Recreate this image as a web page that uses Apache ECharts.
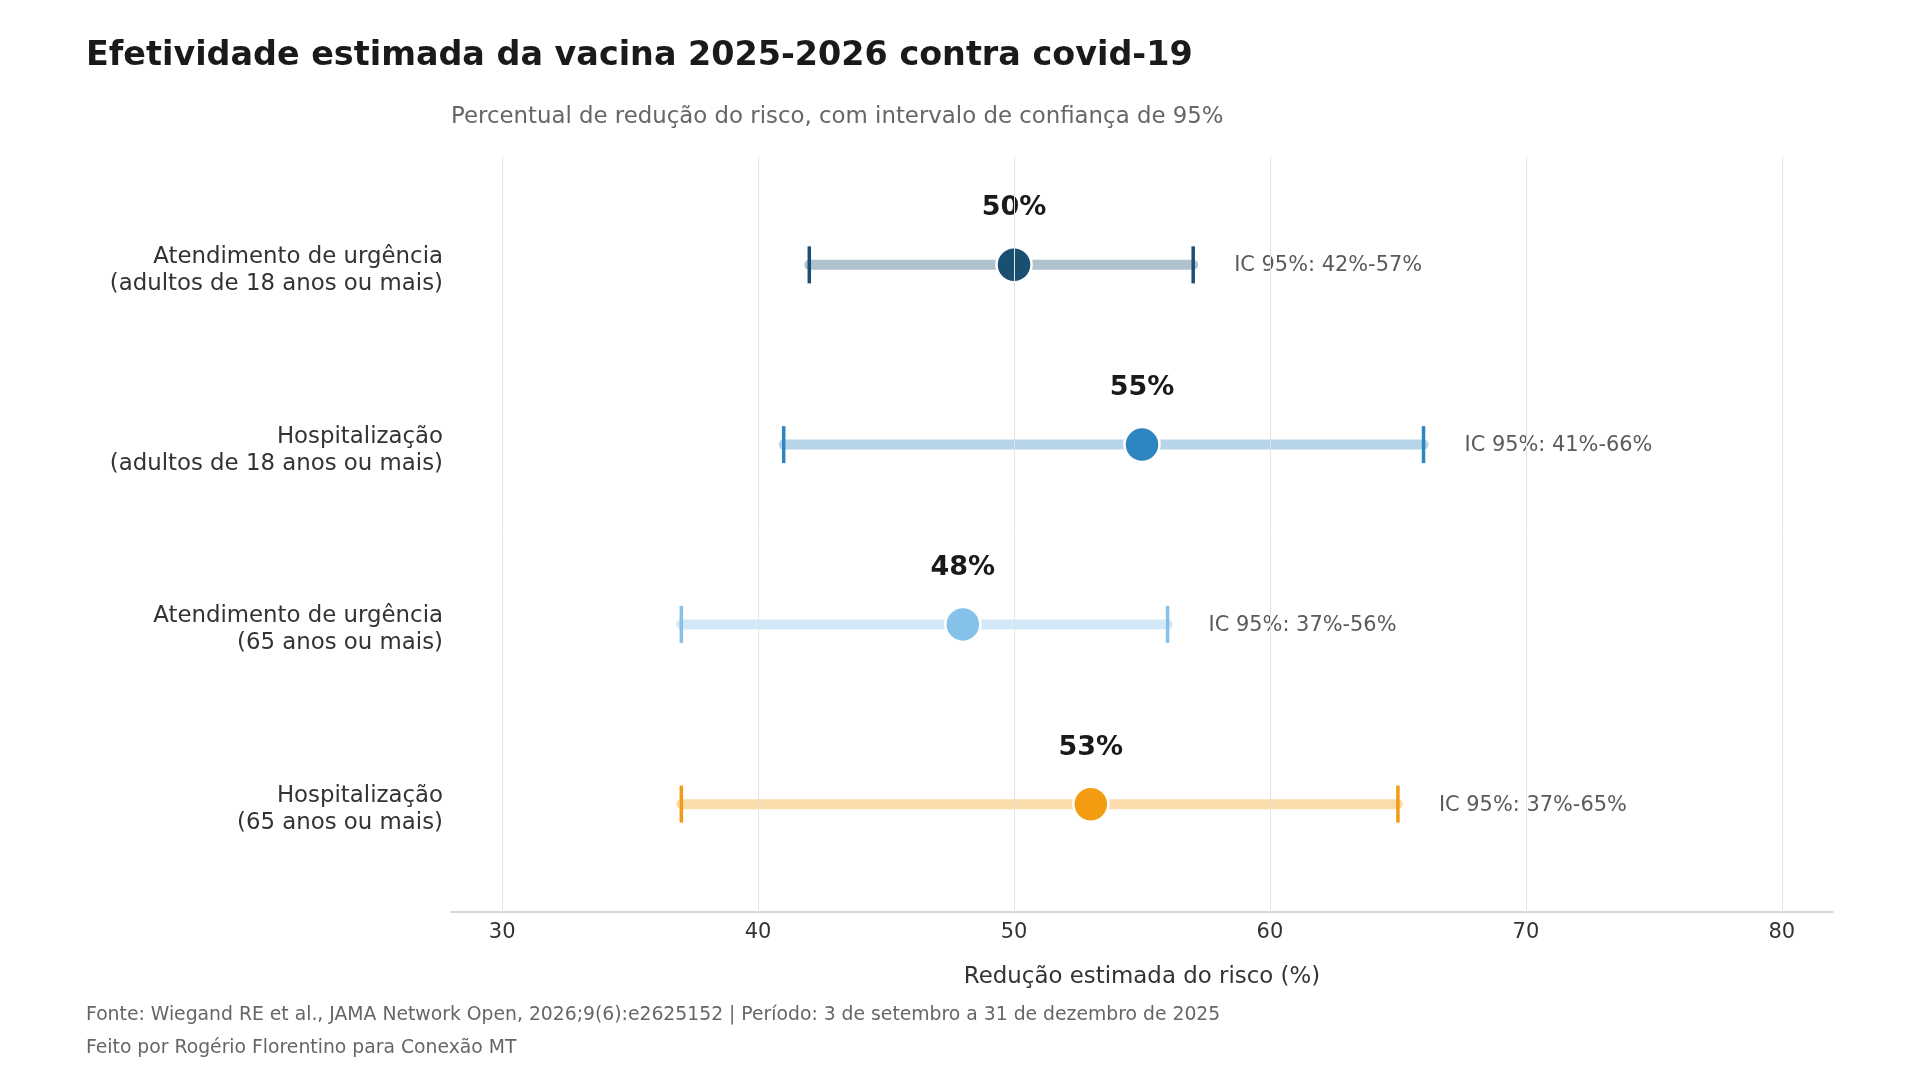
<!DOCTYPE html>
<html><head><meta charset="utf-8">
<script src="https://cdn.jsdelivr.net/npm/echarts@6/dist/echarts.min.js"></script>
<style>html,body{margin:0;padding:0;background:#fff}#chart{width:1920px;height:1080px}</style>
</head><body><div id="chart"></div>
<script>
const categories = [
  'Atendimento de urgência\n(adultos de 18 anos ou mais)',
  'Hospitalização\n(adultos de 18 anos ou mais)',
  'Atendimento de urgência\n(65 anos ou mais)',
  'Hospitalização\n(65 anos ou mais)'
];
const estimates = [50, 55, 48, 53];
const ciLower = [42, 41, 37, 37];
const ciUpper = [57, 66, 56, 65];
const xTicks = [30, 40, 50, 60, 70, 80];
const pointColors = ['#1B4F72', '#2E86C1', '#85C1E9', '#F39C12'];

const titleText = 'Efetividade estimada da vacina 2025-2026 contra covid-19';
const subtitleText = 'Percentual de redução do risco, com intervalo de confiança de 95%';
const xName = 'Redução estimada do risco (%)';
const footer1 = 'Fonte: Wiegand RE et al., JAMA Network Open, 2026;9(6):e2625152 | Período: 3 de setembro a 31 de dezembro de 2025';
const footer2 = 'Feito por Rogério Florentino para Conexão MT';

const FONT = '"DejaVu Sans", sans-serif';
const X_MIN = 28, X_MAX = 82;

function hexToRgba(hex, a) {
  const n = parseInt(hex.slice(1), 16);
  return 'rgba(' + ((n >> 16) & 255) + ',' + ((n >> 8) & 255) + ',' + (n & 255) + ',' + a + ')';
}

const chart = echarts.init(document.getElementById('chart'), null, {renderer: 'canvas'});

const option = {
  backgroundColor: '#ffffff',
  animation: false,
  textStyle: {fontFamily: FONT},
  grid: {left: 451, right: 87, top: 157, bottom: 168, containLabel: false},
  xAxis: {
    type: 'value', min: X_MIN, max: X_MAX,
    axisLine: {show: true, onZero: false, lineStyle: {color: '#cccccc', width: 1.6}},
    axisTick: {show: false},
    splitLine: {show: false},
    axisLabel: {customValues: xTicks, fontSize: 21, color: '#333333', margin: 10, fontFamily: FONT},
    name: xName, nameLocation: 'middle', nameGap: 54,
    nameTextStyle: {fontSize: 22.9, color: '#333333', fontFamily: FONT}
  },
  yAxis: {
    type: 'value', min: -0.6, max: 3.6, inverse: true,
    axisLine: {show: false}, axisTick: {show: false}, splitLine: {show: false},
    axisLabel: {show: false}
  },
  graphic: [
    {type: 'text', x: 86, y: 56.5, style: {text: titleText, font: 'bold 33.4px ' + FONT, fill: '#1a1a1a', align: 'left', verticalAlign: 'middle'}},
    {type: 'text', x: 451, y: 117.5, style: {text: subtitleText, font: '22.85px ' + FONT, fill: '#666666', align: 'left', verticalAlign: 'middle'}},
    {type: 'text', x: 86, y: 1015.5, style: {text: footer1, font: '18.8px ' + FONT, fill: '#666666', align: 'left', verticalAlign: 'middle'}},
    {type: 'text', x: 86, y: 1048.5, style: {text: footer2, font: '18.8px ' + FONT, fill: '#666666', align: 'left', verticalAlign: 'middle'}}
  ],
  series: [
    {
      type: 'line', data: [], z: 1, silent: true,
      markLine: {
        silent: true, symbol: 'none', label: {show: false},
        lineStyle: {color: '#e3e3e3', width: 1, type: 'solid'},
        data: xTicks.map(function (v) { return {xAxis: v}; })
      }
    },
    {
      type: 'custom', z: 2, silent: true, clip: false,
      encode: {x: [1, 2], y: 0},
      data: categories.map(function (c, i) { return [i, ciLower[i], ciUpper[i]]; }),
      renderItem: function (params, api) {
        const i = api.value(0);
        const lo = api.coord([api.value(1), i]);
        const hi = api.coord([api.value(2), i]);
        const left = api.coord([X_MIN, i]);
        const col = pointColors[i];
        const h = 18.5;
        return {
          type: 'group',
          children: [
            {type: 'text', x: left[0] - 8, y: left[1] + 5.5,
             style: {text: categories[i], font: '22.85px ' + FONT, lineHeight: 27,
                     fill: '#333333', align: 'right', verticalAlign: 'middle'}},
            {type: 'line', shape: {x1: lo[0], y1: lo[1], x2: hi[0], y2: hi[1]},
             style: {stroke: hexToRgba(col, 0.35), lineWidth: 10, lineCap: 'round'}},
            {type: 'line', shape: {x1: lo[0], y1: lo[1] - h, x2: lo[0], y2: lo[1] + h},
             style: {stroke: col, lineWidth: 3.5}},
            {type: 'line', shape: {x1: hi[0], y1: hi[1] - h, x2: hi[0], y2: hi[1] + h},
             style: {stroke: col, lineWidth: 3.5}},
            {type: 'text', x: hi[0] + 41, y: hi[1] + 1,
             style: {text: 'IC 95%: ' + ciLower[i] + '%-' + ciUpper[i] + '%', font: '20.9px ' + FONT,
                     fill: '#5a5a5a', align: 'left', verticalAlign: 'middle'}}
          ]
        };
      }
    },
    {
      type: 'scatter', z: 3, silent: true,
      symbol: 'circle', symbolSize: 35,
      itemStyle: {borderColor: '#ffffff', borderWidth: 2.5, opacity: 1},
      data: estimates.map(function (v, i) {
        return {value: [v, i], itemStyle: {color: pointColors[i]}};
      }),
      label: {
        show: true, position: 'inside', offset: [0, -56.5],
        formatter: function (p) { return p.value[0] + '%'; },
        fontSize: 27, fontWeight: 'bold', color: '#1a1a1a', fontFamily: FONT
      }
    }
  ]
};
chart.setOption(option);
</script>
</body></html>
